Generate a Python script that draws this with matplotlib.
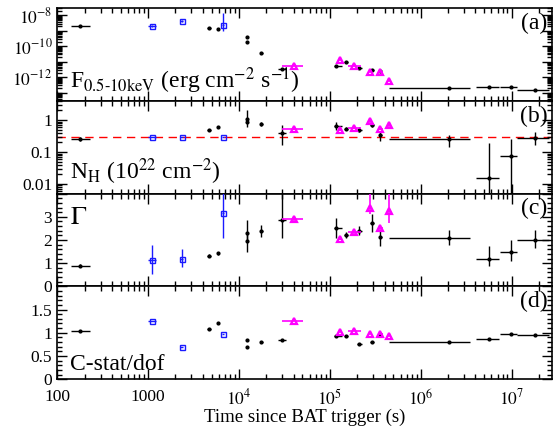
import numpy as np
import matplotlib
matplotlib.use("Agg")
import matplotlib.pyplot as plt
from matplotlib.ticker import LogLocator, MultipleLocator, FuncFormatter, NullFormatter

# -----------------------------
# Data
# -----------------------------

# black points
t_k = [180, 4700, 5900, 12300, 12300, 17600, 30000, 118000, 150000, 210000,
       290000, 360000, 2.05e6, 5.6e6, 9.8e6, 1.8e7]
t_k_lo = [142, 4500, 5700, 12000, 12000, 17000, 27000, 110000, 145000, 200000,
          275000, 345000, 4.5e5, 4.1e6, 7.5e6, 1.14e7]
t_k_hi = [230, 4900, 6100, 12600, 12600, 18200, 33000, 135000, 160000, 225000,
          305000, 375000, 3.5e6, 7.3e6, 1.14e7, 2.6e7]
flux_k = [2.2e-9, 1.6e-9, 1.35e-9, 4e-10, 1.9e-10, 4e-11, 3.4e-12, 5.4e-12, 1e-11,
          4e-12, 3e-12, 2.6e-12, 1.9e-13, 2.5e-13, 2.3e-13, 1.6e-13]
nh_k = [0.25, 0.5, 0.6, 1.1, 0.9, 0.75, 0.4, 0.66, 0.53, 0.5, 0.7, 0.35,
        0.25, 0.015, 0.075, 0.28]
nh_k_lo = [0.22, 0.47, 0.56, 0.8, 0.6, 0.65, 0.17, 0.5, 0.48, 0.43, 0.6, 0.22,
           0.14, 0.001, 0.001, 0.17]
nh_k_hi = [0.29, 0.53, 0.64, 2.1, 1.2, 0.87, 0.7, 0.87, 0.6, 0.6, 0.82, 0.45,
           0.35, 0.19, 0.25, 0.43]
gam_k = [0.9, 1.33, 1.42, 2.3, 1.95, 2.4, 2.87, 2.52, 2.23, 2.38, 2.73, 2.15,
         2.1, 1.2, 1.5, 2.02]
gam_k_lo = [0.85, 1.28, 1.37, 1.9, 1.5, 2.15, 2.1, 2.1, 2.1, 2.2, 2.33, 1.72,
            1.8, 0.87, 1.08, 1.67]
gam_k_hi = [0.95, 1.38, 1.47, 2.85, 2.3, 2.65, 4.3, 2.95, 2.35, 2.6, 3.1, 2.45,
            2.45, 1.72, 2.0, 2.45]
cst_k = [1.04, 1.08, 1.2, 0.85, 0.7, 0.81, 0.85, 0.94, 0.93, 0.76, 0.81, 0.97,
         0.81, 0.87, 0.98, 0.95]

# blue squares
t_b = [1100, 2350, 6700]
t_b_lo = [1000, 2250, 6500]
t_b_hi = [1220, 2450, 6900]
flux_b = [2.2e-9, 4.6e-9, 2.5e-9]
flux_b_lo = [1.9e-9, 4.0e-9, 1.0e-9]
flux_b_hi = [2.6e-9, 5.3e-9, 1.35e-8]
nh_b = [0.3, 0.3, 0.3]
gam_b = [1.12, 1.2, 3.17]
gam_b_lo = [0.55, 0.85, 2.1]
gam_b_hi = [1.8, 1.6, 4.5]
cst_b = [1.26, 0.69, 0.97]

# magenta triangles
t_m = [40000, 129000, 186000, 275000, 360000, 445000]
t_m_lo = [29500, 122000, 160000, 265000, 340000, 430000]
t_m_hi = [51000, 137000, 220000, 290000, 385000, 460000]
flux_m = [5.4e-12, 1.35e-11, 5.4e-12, 2.2e-12, 2.2e-12, 5.4e-13]
nh_m = [0.53, 0.5, 0.57, 0.93, 0.53, 0.7]
nh_m_lo = [0.5, 0.47, 0.53, 0.82, 0.48, 0.62]
nh_m_hi = [0.57, 0.54, 0.62, 1.05, 0.6, 0.8]
gam_m = [2.9, 2.05, 2.35, 3.38, 2.52, 3.27]
gam_m_lo = [2.8, 2.0, 2.28, 3.1, 2.4, 2.73]
gam_m_hi = [3.0, 2.1, 2.42, 4.2, 2.64, 4.2]
cst_m = [1.26, 1.02, 1.04, 0.97, 0.97, 0.93]

nh_gal = 0.3

# -----------------------------
# Helpers
# -----------------------------

def bounds_err(val, lo, hi):
    val = np.asarray(val, float)
    return [val - np.asarray(lo, float), np.asarray(hi, float) - val]


def draw(ax, t, tlo, thi, y, ylo=None, yhi=None, style="k"):
    xerr = bounds_err(t, tlo, thi)
    yerr = None if ylo is None else bounds_err(y, ylo, yhi)
    if style == "k":
        ax.errorbar(t, y, xerr=xerr, yerr=yerr, fmt="o", color="black", ms=2.0,
                    elinewidth=1.0, capsize=0, zorder=3)
    elif style == "b":
        ax.errorbar(t, y, xerr=xerr, yerr=yerr, fmt="s", color="#1a1aff", ms=3.6,
                    mfc="none", mew=1.0, elinewidth=1.0, capsize=0, zorder=3)
    else:
        ax.errorbar(t, y, xerr=xerr, yerr=yerr, fmt="^", color="#ff00ff", ms=4.5,
                    mfc="none", mew=1.6, elinewidth=1.2, capsize=0, zorder=4)


def xfmt(v, pos):
    if v in (100, 1000):
        return "%d" % v
    return r"$10^{%d}$" % int(round(np.log10(v)))


def flux_fmt(v, pos):
    e = int(round(np.log10(v)))
    if e % 2 == 0 and e > -14:
        return r"$10^{%d}$" % e
    return ""


def nh_fmt(v, pos):
    return {0.01: "0.01", 0.1: "0.1", 1: "1"}.get(round(v, 3), "")


def make_num_fmt(top):
    def f(v, pos):
        if v >= top - 1e-9:
            return ""
        return "%g" % v
    return f


# -----------------------------
# Figure
# -----------------------------

plt.rcParams["font.family"] = ["Liberation Serif", "DejaVu Serif"]
plt.rcParams["mathtext.fontset"] = "stix"
plt.rcParams["font.size"] = 12.5

fig, axes = plt.subplots(4, 1, sharex=True, figsize=(5.55, 4.26), dpi=100)
fig.subplots_adjust(left=0.103, right=0.995, top=0.981, bottom=0.110, hspace=0)
ax_a, ax_b, ax_c, ax_d = axes

# (a) flux
draw(ax_a, t_k, t_k_lo, t_k_hi, flux_k)
draw(ax_a, t_b, t_b_lo, t_b_hi, flux_b, flux_b_lo, flux_b_hi, style="b")
draw(ax_a, t_m, t_m_lo, t_m_hi, flux_m, style="m")
ax_a.set_yscale("log")
ax_a.set_ylim(3e-14, 3e-8)
ax_a.yaxis.set_major_locator(LogLocator(base=10, numticks=20))
ax_a.yaxis.set_minor_locator(LogLocator(base=10, subs=np.arange(2, 10), numticks=20))
ax_a.yaxis.set_major_formatter(FuncFormatter(flux_fmt))
ax_a.yaxis.set_minor_formatter(NullFormatter())
ax_a.text(0.025, 0.05, r"F$_{0.5\text{-}10\mathrm{keV}}$ (erg cm$^{-2}$ s$^{-1}$)",
          transform=ax_a.transAxes, fontsize=17, ha="left", va="bottom")
ax_a.text(0.99, 0.95, "(a)", transform=ax_a.transAxes, fontsize=17, ha="right", va="top")

# (b) NH
ax_b.axhline(nh_gal, color="#ff0000", ls=(0, (6, 4)), lw=1.0, zorder=1)
draw(ax_b, t_k, t_k_lo, t_k_hi, nh_k, nh_k_lo, nh_k_hi)
draw(ax_b, t_b, t_b_lo, t_b_hi, nh_b, style="b")
draw(ax_b, t_m, t_m_lo, t_m_hi, nh_m, nh_m_lo, nh_m_hi, style="m")
ax_b.set_yscale("log")
ax_b.set_ylim(0.005, 4)
ax_b.yaxis.set_major_locator(LogLocator(base=10, numticks=20))
ax_b.yaxis.set_minor_locator(LogLocator(base=10, subs=np.arange(2, 10), numticks=20))
ax_b.yaxis.set_major_formatter(FuncFormatter(nh_fmt))
ax_b.yaxis.set_minor_formatter(NullFormatter())
ax_b.text(0.025, 0.07, r"N$_\mathrm{H}$ (10$^{22}$ cm$^{-2}$)",
          transform=ax_b.transAxes, fontsize=17, ha="left", va="bottom")
ax_b.text(0.99, 0.95, "(b)", transform=ax_b.transAxes, fontsize=17, ha="right", va="top")

# (c) photon index
draw(ax_c, t_k, t_k_lo, t_k_hi, gam_k, gam_k_lo, gam_k_hi)
draw(ax_c, t_b, t_b_lo, t_b_hi, gam_b, gam_b_lo, gam_b_hi, style="b")
draw(ax_c, t_m, t_m_lo, t_m_hi, gam_m, gam_m_lo, gam_m_hi, style="m")
ax_c.set_ylim(0, 4)
ax_c.yaxis.set_major_locator(MultipleLocator(1))
ax_c.yaxis.set_minor_locator(MultipleLocator(0.2))
ax_c.yaxis.set_major_formatter(FuncFormatter(make_num_fmt(4)))
ax_c.text(0.025, 0.86, r"$\Gamma$", transform=ax_c.transAxes, fontsize=19,
          ha="left", va="top")
ax_c.text(0.99, 0.95, "(c)", transform=ax_c.transAxes, fontsize=17, ha="right", va="top")

# (d) C-stat/dof
draw(ax_d, t_k, t_k_lo, t_k_hi, cst_k)
draw(ax_d, t_b, t_b_lo, t_b_hi, cst_b, style="b")
draw(ax_d, t_m, t_m_lo, t_m_hi, cst_m, style="m")
ax_d.set_ylim(0, 2)
ax_d.yaxis.set_major_locator(MultipleLocator(0.5))
ax_d.yaxis.set_minor_locator(MultipleLocator(0.1))
ax_d.yaxis.set_major_formatter(FuncFormatter(make_num_fmt(2)))
ax_d.text(0.025, 0.05, "C-stat/dof", transform=ax_d.transAxes, fontsize=17,
          ha="left", va="bottom")
ax_d.text(0.99, 0.95, "(d)", transform=ax_d.transAxes, fontsize=17, ha="right", va="top")

ax_d.set_xscale("log")
ax_d.set_xlim(100, 2.8e7)
ax_d.xaxis.set_major_locator(LogLocator(base=10, numticks=20))
ax_d.xaxis.set_minor_locator(LogLocator(base=10, subs=np.arange(2, 10), numticks=20))
ax_d.xaxis.set_major_formatter(FuncFormatter(xfmt))
ax_d.xaxis.set_minor_formatter(NullFormatter())
ax_d.set_xlabel("Time since BAT trigger (s)", fontsize=13.5, labelpad=0)

for ax in axes:
    ax.tick_params(which="both", direction="in", top=True, right=True, width=1.0)
    ax.tick_params(which="major", length=7)
    ax.tick_params(which="minor", length=3.5)
    for sp in ax.spines.values():
        sp.set_linewidth(1.2)
ax_d.tick_params(axis="x", which="major", pad=7)

fig.savefig("out.png", dpi=100)
